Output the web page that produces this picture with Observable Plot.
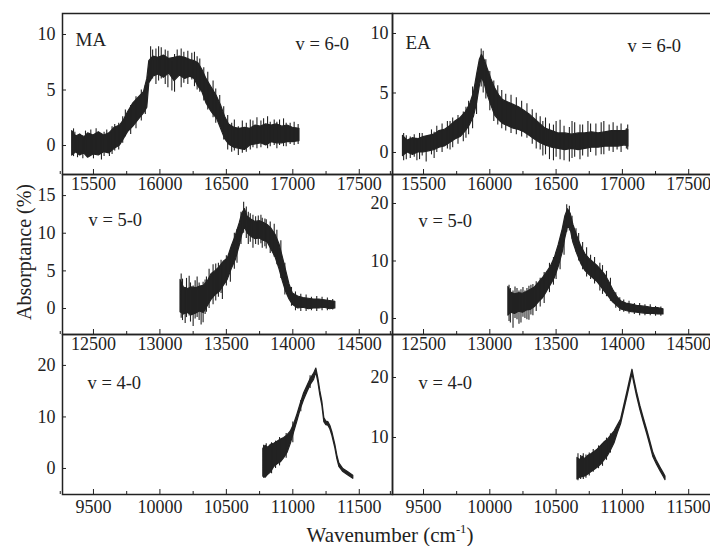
<!DOCTYPE html>
<html><head><meta charset="utf-8">
<script src="https://cdn.jsdelivr.net/npm/d3@7"></script>
<script src="https://cdn.jsdelivr.net/npm/@observablehq/plot@0.6"></script>
<style>
body{margin:0;background:#fff}
#chart{position:relative;width:710px;height:546px;overflow:hidden;font-family:"Liberation Serif",serif;color:#222;background:#fff}
#chart svg{position:absolute}
.ttl{position:absolute;white-space:nowrap;line-height:1;color:#222;font-family:"Liberation Serif",serif}
.ttl sup{font-size:0.6em;line-height:0;vertical-align:0.7em}
</style></head><body><div id="chart"></div>
<script>
// ---------------- data ----------------
const molecules = ["MA", "EA"];
const bands = ["v = 6-0", "v = 5-0", "v = 4-0"];
const yTitle = "Absorptance (%)";
const xTitle = "Wavenumber (cm<sup>-1</sup>)";

const xTicks60 = [15500, 16000, 16500, 17000, 17500];
const xTicks50 = [12500, 13000, 13500, 14000, 14500];
const xTicks40 = [9500, 10000, 10500, 11000, 11500];
const yTicksMA60 = [0, 5, 10];
const yTicksEA60 = [0, 5, 10];
const yTicksMA50 = [0, 5, 10, 15];
const yTicksEA50 = [0, 10, 20];
const yTicksMA40 = [0, 10, 20];
const yTicksEA40 = [10, 20];

// noisy spectra: [wavenumber, lower edge, upper edge] of the trace
const MA60 = [[15340,-0.9,1.3],[15370,-0.6,0.8],[15400,-0.9,1.0],[15430,-0.7,0.7],[15460,-1.1,1.1],[15500,-0.8,0.9],[15540,-0.9,1.2],[15580,-0.6,0.9],[15620,-0.7,1.1],[15660,-0.3,1.6],[15700,0.0,1.8],[15730,0.6,2.3],[15760,1.2,3.0],[15800,1.7,3.8],[15840,2.3,4.3],[15880,2.9,4.8],[15905,3.4,6.0],[15920,5.6,7.6],[15950,6.2,8.0],[15990,6.4,7.9],[16030,6.1,8.1],[16070,6.5,7.8],[16110,5.8,7.9],[16150,6.3,8.0],[16190,6.0,7.9],[16230,6.2,7.7],[16260,6.0,7.6],[16290,5.3,7.4],[16320,4.8,6.8],[16350,3.8,6.0],[16390,3.0,5.2],[16430,2.4,4.4],[16460,1.5,3.6],[16490,0.6,2.6],[16520,0.1,1.9],[16560,-0.2,1.6],[16600,-0.3,1.5],[16640,-0.4,1.6],[16680,0.0,1.5],[16720,0.1,1.8],[16760,0.2,1.7],[16800,0.0,1.9],[16840,0.3,1.8],[16880,0.2,1.9],[16920,0.2,1.7],[16960,0.3,1.8],[17000,0.3,1.6],[17050,0.4,1.5]];
const MA60spikes = [[15350,-1.0,1.5],[15360,-0.5,1.2],[15380,-1.1,0.7],[15420,-1.2,0.9],[15440,-0.6,1.3],[15480,-0.9,1.4],[15500,-1.2,0.8],[15520,-0.4,1.5],[15560,-1.3,1.0],[15580,-1.0,1.2],[15600,-0.5,1.4],[15620,-1.0,0.9],[15640,-0.8,1.7],[15660,-0.5,1.9],[15690,-0.4,2.0],[15720,0.2,2.6],[15740,0.8,3.2],[15780,1.0,3.6],[15820,1.5,4.4],[15860,2.2,5.0],[15890,2.8,5.4],[15930,5.8,8.9],[15945,6.0,8.6],[15970,5.5,8.7],[15990,5.8,8.9],[16010,6.0,8.8],[16040,5.5,8.6],[16060,5.2,8.5],[16090,4.9,7.5],[16110,4.8,8.2],[16130,6.2,8.6],[16160,5.2,8.7],[16180,5.6,8.4],[16210,5.5,8.5],[16240,5.9,8.3],[16260,5.3,8.4],[16280,5.0,8.0],[16300,4.8,7.8],[16330,4.0,7.0],[16360,3.2,6.6],[16400,2.5,5.8],[16420,2.0,5.1],[16450,1.8,4.5],[16480,0.5,3.5],[16510,-0.4,2.7],[16540,-0.6,2.0],[16560,-0.5,2.3],[16590,-0.9,1.7],[16620,-0.7,2.2],[16650,-0.6,2.0],[16680,-0.4,2.3],[16700,-0.2,2.2],[16730,-0.3,2.5],[16760,-0.2,2.2],[16780,0.1,2.4],[16810,-0.3,2.6],[16830,-0.1,2.1],[16860,0.0,2.3],[16880,-0.3,2.1],[16900,0.0,2.3],[16930,-0.1,2.4],[16950,-0.1,2.0],[16980,0.1,2.0],[17010,0.0,2.1],[17040,0.1,1.9]];

const EA60 = [[15345,-0.3,1.4],[15380,0.0,1.0],[15420,-0.2,1.2],[15460,0.0,1.1],[15500,0.0,1.3],[15540,0.1,1.4],[15580,0.2,1.5],[15620,0.4,1.8],[15660,0.5,1.9],[15700,0.8,2.2],[15740,1.1,2.6],[15780,1.3,2.9],[15820,1.8,3.4],[15850,2.3,4.0],[15880,3.0,5.0],[15905,4.2,6.6],[15925,5.6,7.8],[15940,6.3,8.2],[15960,5.8,7.8],[15985,4.8,7.0],[16010,4.0,6.2],[16040,3.1,5.4],[16070,2.7,4.8],[16100,2.4,4.4],[16140,2.2,4.2],[16180,2.0,4.0],[16220,1.9,3.8],[16260,1.7,3.5],[16300,1.4,3.2],[16340,1.1,2.8],[16380,0.8,2.4],[16420,0.6,2.0],[16470,0.4,1.8],[16520,0.3,1.6],[16570,0.2,1.6],[16620,0.3,1.5],[16670,0.2,1.6],[16720,0.3,1.6],[16770,0.4,1.7],[16820,0.4,1.6],[16870,0.5,1.7],[16920,0.5,1.8],[16970,0.5,1.8],[17020,0.6,1.8],[17045,0.5,1.9]];
const EA60spikes = [[15350,-0.7,1.6],[15370,-0.6,1.4],[15400,-0.5,1.3],[15430,-0.4,1.5],[15450,-0.7,1.2],[15470,-0.6,1.6],[15490,-0.3,1.6],[15520,-0.8,1.2],[15560,-0.2,1.9],[15580,-0.5,1.7],[15600,0.0,2.2],[15640,0.0,2.4],[15680,0.3,2.6],[15700,0.2,2.6],[15720,0.4,2.9],[15760,0.7,3.1],[15800,0.9,3.4],[15820,1.2,3.8],[15840,1.5,4.3],[15870,2.0,5.5],[15900,3.2,6.4],[15935,5.5,8.7],[15950,5.0,8.5],[15970,4.5,7.8],[16000,3.5,6.8],[16030,2.6,6.0],[16060,2.3,5.6],[16090,2.0,5.2],[16120,1.8,4.9],[16160,1.6,4.8],[16200,1.5,4.6],[16240,1.3,4.3],[16280,1.2,4.1],[16320,0.7,3.6],[16350,0.3,3.3],[16380,0.2,3.0],[16400,-0.3,2.6],[16420,-0.2,2.9],[16450,-0.6,2.4],[16480,-0.7,2.3],[16500,-0.4,2.6],[16530,-0.6,2.7],[16560,-0.7,2.2],[16600,-0.8,2.1],[16620,-0.5,2.6],[16640,-0.4,2.5],[16680,-0.6,2.3],[16700,-0.3,2.3],[16740,-0.4,2.6],[16760,0.0,2.4],[16800,-0.3,2.4],[16840,-0.2,2.5],[16860,-0.2,2.6],[16900,0.1,2.3],[16930,0.0,2.5],[16960,0.2,2.2],[16990,0.0,2.4],[17030,0.3,2.0],[17040,0.2,2.3]];

const MA50 = [[13155,-0.5,3.8],[13180,-0.8,2.8],[13210,-0.6,2.6],[13240,-0.9,2.8],[13270,-0.7,2.7],[13300,-0.4,2.9],[13330,-0.6,3.0],[13360,0.3,3.6],[13390,1.2,4.6],[13420,1.8,5.0],[13450,2.2,5.5],[13480,3.0,6.2],[13510,3.8,6.6],[13540,5.2,8.2],[13570,6.4,9.6],[13600,8.3,11.3],[13620,9.8,12.6],[13640,10.8,13.2],[13660,10.0,12.2],[13690,9.5,11.8],[13720,9.2,11.5],[13750,9.3,11.6],[13780,9.0,11.4],[13810,8.8,11.1],[13840,7.8,10.6],[13870,6.8,9.8],[13900,5.2,8.5],[13925,3.6,6.8],[13950,2.2,5.0],[13975,1.2,3.2],[14000,0.5,2.0],[14040,0.0,1.6],[14080,0.1,1.4],[14120,-0.1,1.3],[14160,0.0,1.2],[14200,0.0,1.2],[14240,0.1,1.1],[14280,-0.1,1.0],[14320,0.0,0.9]];
const MA50spikes = [[13160,-1.3,4.6],[13170,-1.6,3.9],[13190,-2.0,2.8],[13200,-1.2,4.0],[13220,-1.0,4.3],[13230,-1.8,3.4],[13250,-2.4,3.0],[13265,-1.4,3.7],[13280,-1.2,4.2],[13295,-1.6,3.4],[13310,-2.2,2.6],[13325,-1.9,3.5],[13340,-0.8,3.8],[13350,-0.5,4.2],[13370,0.0,5.2],[13400,0.5,5.8],[13420,1.0,5.9],[13440,1.5,6.0],[13460,2.0,6.4],[13470,1.2,5.6],[13500,3.0,7.0],[13530,3.5,7.5],[13560,5.2,10.0],[13580,6.0,10.5],[13610,8.5,12.8],[13630,10.0,14.1],[13650,9.3,13.5],[13665,8.5,12.8],[13680,8.8,12.6],[13700,8.0,12.4],[13720,8.5,12.2],[13740,8.4,12.3],[13760,8.6,12.4],[13770,8.0,12.0],[13790,8.2,11.9],[13800,7.9,11.8],[13830,7.3,11.5],[13860,6.8,11.2],[13880,5.8,10.4],[13910,4.0,9.0],[13940,1.8,6.0],[13990,0.3,2.8],[14020,-0.3,2.2],[14060,-0.4,1.9],[14100,-0.4,1.8],[14140,-0.3,1.5],[14180,-0.4,1.6],[14220,-0.3,1.5],[14260,-0.3,1.4],[14300,-0.2,1.2]];

const EA50 = [[13140,0.5,5.5],[13160,1.0,4.5],[13190,0.8,4.2],[13220,1.2,4.4],[13250,1.0,4.3],[13280,1.4,4.6],[13310,1.5,5.0],[13340,2.0,5.4],[13370,2.8,6.2],[13400,3.5,7.0],[13430,4.6,8.0],[13460,5.8,9.0],[13490,7.0,10.5],[13520,9.0,12.8],[13550,11.5,15.5],[13570,14.0,17.8],[13590,16.0,19.0],[13610,15.5,18.2],[13630,13.2,16.3],[13660,11.2,14.3],[13690,9.5,12.5],[13720,8.3,11.2],[13750,7.6,10.4],[13780,7.0,9.8],[13810,6.4,9.2],[13840,5.5,8.4],[13870,4.6,7.6],[13900,3.7,6.4],[13930,2.8,5.0],[13960,2.2,3.8],[13990,1.6,3.0],[14030,1.3,2.6],[14070,1.1,2.4],[14110,1.0,2.2],[14150,0.9,2.1],[14190,0.8,2.0],[14230,0.8,1.8],[14270,0.7,1.8],[14310,0.7,1.6]];
const EA50spikes = [[13145,-0.5,5.8],[13155,-0.8,5.2],[13175,-1.7,4.8],[13190,0.0,5.5],[13205,-0.2,5.2],[13220,-1.0,4.8],[13235,-0.8,5.0],[13250,0.2,5.4],[13265,0.0,4.8],[13280,-0.2,5.2],[13295,-0.3,5.6],[13310,0.6,5.8],[13325,0.5,5.9],[13350,1.2,6.4],[13380,2.0,7.0],[13410,2.6,8.0],[13450,4.5,9.6],[13480,5.8,10.6],[13500,6.8,11.5],[13530,8.5,13.5],[13560,11.0,16.5],[13580,15.0,19.8],[13600,15.2,19.5],[13620,13.8,17.8],[13650,11.5,15.6],[13670,10.0,14.8],[13700,8.5,13.2],[13730,7.2,12.3],[13760,6.8,11.0],[13790,6.0,10.6],[13830,4.8,9.6],[13850,4.2,9.2],[13880,3.8,8.2],[13910,3.0,7.0],[13950,1.8,4.5],[13980,1.2,3.6],[14010,1.1,3.2],[14050,0.8,3.0],[14090,0.7,2.6],[14130,0.5,2.6],[14170,0.5,2.4],[14210,0.5,2.4],[14250,0.4,2.1],[14290,0.4,2.0]];

const MA40 = [[10778,-1.6,3.8],[10795,-1.8,4.4],[10815,-1.2,4.0],[10835,-0.8,4.6],[10860,0.3,4.8],[10885,0.8,5.2],[10910,1.2,5.6],[10935,2.0,5.9],[10960,3.0,6.4],[10985,4.8,7.2],[11010,7.0,8.6],[11035,9.2,10.5],[11060,11.5,12.6],[11085,13.3,14.6],[11110,14.8,16.0],[11135,16.2,17.4],[11160,17.2,18.4],[11177,18.6,19.4],[11192,16.7,17.5],[11207,14.2,15.0],[11222,12.2,13.0],[11237,9.0,9.8],[11252,8.4,9.1],[11267,8.3,9.0],[11282,7.6,8.3],[11297,6.4,7.1],[11320,3.9,4.6],[11335,1.8,2.5],[11350,0.3,1.0],[11380,-0.7,-0.1],[11415,-1.3,-0.7],[11455,-2.0,-1.4]];
const MA40spikes = [[10780,-1.9,4.5],[10800,-1.5,4.8],[10840,-1.0,5.0],[10870,0.0,5.3],[10900,0.5,6.0],[10950,2.0,6.8],[11000,5.0,9.0],[11060,11.0,13.2],[11130,15.5,18.0]];

const EA40 = [[10661,3.0,6.6],[10680,3.3,6.2],[10700,3.4,6.8],[10720,3.5,6.4],[10740,3.8,6.9],[10765,4.2,7.2],[10790,4.6,7.6],[10815,5.0,8.0],[10840,5.5,8.6],[10865,6.2,9.2],[10890,6.9,9.6],[10915,7.9,10.3],[10940,9.0,11.0],[10965,10.7,12.0],[10990,12.2,13.0],[11015,14.6,15.4],[11040,17.0,17.8],[11060,19.0,19.8],[11076,20.6,21.3],[11090,19.0,19.7],[11110,16.9,17.6],[11135,14.6,15.3],[11160,12.6,13.3],[11189,10.4,11.1],[11210,8.7,9.4],[11234,6.7,7.4],[11260,5.5,6.1],[11287,4.4,5.0],[11310,3.5,4.1],[11325,2.9,3.5]];
const EA40spikes = [[10665,2.8,7.3],[10685,3.0,7.0],[10705,3.0,7.3],[10725,3.2,7.1],[10750,3.6,7.4],[10780,4.2,8.0],[10820,4.8,8.6],[10850,5.2,9.0],[10880,6.2,9.9],[10910,7.4,10.6]];

// ---------------- layout ----------------
const ink = "#222";
const ML = 45, MB = 34, W = 330;
const colLeft = [62, 392];
const rowTop = [13, 174, 334];
const rowH = [161, 160, 160];

const panels = [
  {r:0,c:0,xd:[15267,17750],yd:[-2.61,11.89],xt:xTicks60,yt:yTicksMA60,d:MA60,s:MA60spikes,yp:7,xp:3,
   texts:[[molecules[0],13,26,19],[bands[0],233,31,18.5]]},
  {r:0,c:1,xd:[15266,17755],yd:[-1.85,11.68],xt:xTicks60,yt:yTicksEA60,d:EA60,s:EA60spikes,yp:4,xp:3,
   texts:[[molecules[1],13,29,19],[bands[0],235,33,18.5]]},
  {r:1,c:0,xd:[12267,14750],yd:[-3.45,17.80],xt:xTicks50,yt:yTicksMA50,d:MA50,s:MA50spikes,yp:7,xp:3,
   texts:[[bands[1],26,46,18.5]]},
  {r:1,c:1,xd:[12266,14755],yd:[-2.78,25.04],xt:xTicks50,yt:yTicksEA50,d:EA50,s:EA50spikes,yp:4,xp:3,
   texts:[[bands[1],26,47,18.5]]},
  {r:2,c:0,xd:[9267,11750],yd:[-5.05,26.0],xt:xTicks40,yt:yTicksMA40,d:MA40,s:MA40spikes,yp:7,xp:6,
   texts:[[bands[2],25,49,18.5]]},
  {r:2,c:1,xd:[9266,11755],yd:[0.5,27.17],xt:xTicks40,yt:yTicksEA40,d:EA40,s:EA40spikes,yp:4,xp:6,
   texts:[[bands[2],26,49,18.5]]}
];

const chart = document.getElementById("chart");

for (const p of panels) {
  const h = rowH[p.r];
  const pyu = h / (p.yd[1] - p.yd[0]);      // px per y unit
  const pxu = W / (p.xd[1] - p.xd[0]);      // px per x unit
  const minor = p.xt.map(t => t - 250).concat([p.xt[p.xt.length - 1] + 250]);
  const svg = Plot.plot({
    width: W + ML, height: h + MB,
    marginLeft: ML, marginRight: 0, marginTop: 0, marginBottom: MB,
    style: `background:transparent;overflow:visible;font-family:'Liberation Serif',serif;font-size:18px;color:${ink}`,
    x: {domain: p.xd, ticks: p.xt, tickSize: 0, tickPadding: p.xp, tickFormat: "d", label: null},
    y: {domain: p.yd, ticks: p.yt, tickSize: 0, tickPadding: p.yp, tickFormat: "d", label: null},
    marks: [
      Plot.areaY(p.d, {x: d => d[0], y1: d => d[1], y2: d => d[2], fill: ink, stroke: ink, strokeWidth: 1.2}),
      Plot.ruleX(p.s, {x: d => d[0], y1: d => d[1], y2: d => d[2], stroke: ink, strokeWidth: 1.1}),
      Plot.ruleX(p.xt, {x: d => d, y1: p.yd[0], y2: p.yd[0] + 5 / pyu, stroke: ink, strokeWidth: 1}),
      Plot.ruleX(minor, {x: d => d, y1: p.yd[0], y2: p.yd[0] + 3 / pyu, stroke: ink, strokeWidth: 1}),
      Plot.ruleY(p.yt, {y: d => d, x1: p.xd[0], x2: p.xd[0] + 4 / pxu, stroke: ink, strokeWidth: 1}),
      Plot.frame({stroke: ink, strokeWidth: 1.5}),
      ...p.texts.map(([t, dx, dy, fs]) =>
        Plot.text([t], {text: d => d, frameAnchor: "top-left", dx, dy, textAnchor: "start",
          lineAnchor: "middle", fontSize: fs, fill: ink}))
    ]
  });
  svg.style.left = (colLeft[p.c] - ML) + "px";
  svg.style.top = rowTop[p.r] + "px";
  chart.appendChild(svg);
}

const yt = document.createElement("div");
yt.className = "ttl";
yt.innerHTML = yTitle;
yt.style.cssText += "font-size:20px;left:24px;top:252px;transform:translate(-50%,-50%) rotate(-90deg);";
chart.appendChild(yt);

const xtl = document.createElement("div");
xtl.className = "ttl";
xtl.innerHTML = xTitle;
xtl.style.cssText += "font-size:21px;left:390px;top:525px;transform:translateX(-50%);";
chart.appendChild(xtl);
</script>
</body></html>
